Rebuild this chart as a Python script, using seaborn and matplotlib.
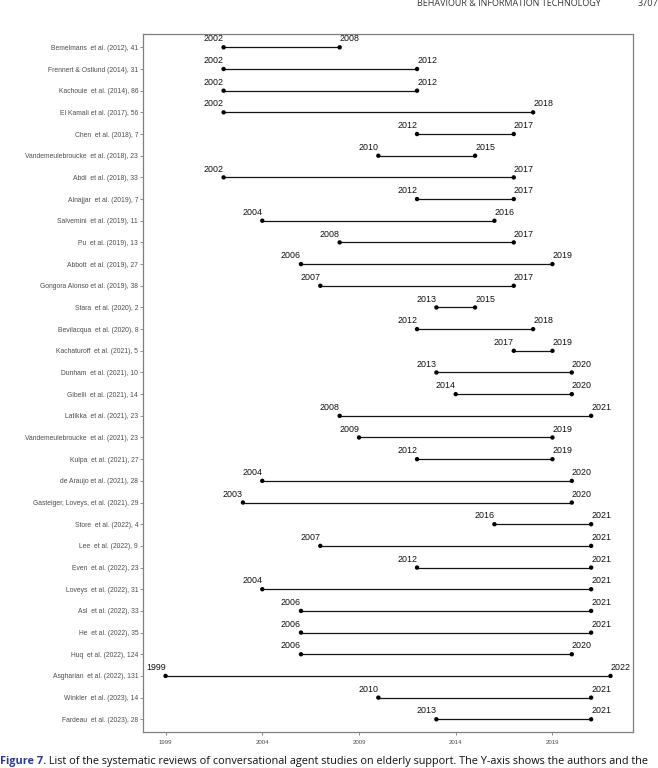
import matplotlib
matplotlib.use("Agg")
import matplotlib.pyplot as plt
import seaborn as sns
import pandas as pd

# studies, top to bottom: author label, first year covered, last year covered
studies = [
    "Bemelmans  et al. (2012), 41",
    "Frennert & Ostlund (2014), 31",
    "Kachouie  et al. (2014), 86",
    "El Kamali et al. (2017), 56",
    "Chen  et al. (2018), 7",
    "Vandemeulebroucke  et al. (2018), 23",
    "Abdi  et al. (2018), 33",
    "Alnajjar  et al. (2019), 7",
    "Salvemini  et al. (2019), 11",
    "Pu  et al. (2019), 13",
    "Abbott  et al. (2019), 27",
    "Gongora Alonso et al. (2019), 38",
    "Stara  et al. (2020), 2",
    "Bevilacqua  et al. (2020), 8",
    "Kachaturoff  et al. (2021), 5",
    "Dunham  et al. (2021), 10",
    "Gibelli  et al. (2021), 14",
    "Latikka  et al. (2021), 23",
    "Vandemeulebroucke  et al. (2021), 23",
    "Kulpa  et al. (2021), 27",
    "de Araujo et al. (2021), 28",
    "Gasteiger, Loveys, et al. (2021), 29",
    "Store  et al. (2022), 4",
    "Lee  et al. (2022), 9",
    "Even  et al. (2022), 23",
    "Loveys  et al. (2022), 31",
    "Asl  et al. (2022), 33",
    "He  et al. (2022), 35",
    "Huq  et al. (2022), 124",
    "Asgharian  et al. (2022), 131",
    "Winkler  et al. (2023), 14",
    "Fardeau  et al. (2023), 28",
]
start_year = [2002, 2002, 2002, 2002, 2012, 2010, 2002, 2012, 2004, 2008,
              2006, 2007, 2013, 2012, 2017, 2013, 2014, 2008, 2009, 2012,
              2004, 2003, 2016, 2007, 2012, 2004, 2006, 2006, 2006, 1999,
              2010, 2013]
end_year = [2008, 2012, 2012, 2018, 2017, 2015, 2017, 2017, 2016, 2017,
            2019, 2017, 2015, 2018, 2019, 2020, 2020, 2021, 2019, 2019,
            2020, 2020, 2021, 2021, 2021, 2021, 2021, 2021, 2020, 2022,
            2021, 2021]
x_ticks = [1999, 2004, 2009, 2014, 2019]

caption_bold = "Figure 7."
caption_rest = (" List of the systematic reviews of conversational agent studies "
                "on elderly support. The Y-axis shows the authors and the")
header_text = "BEHAVIOUR & INFORMATION TECHNOLOGY"
page_no = "3707"

df = pd.DataFrame({"study": studies, "start": start_year, "end": end_year})
long_df = df.melt(id_vars="study", value_vars=["start", "end"],
                  var_name="kind", value_name="year")

sns.set_theme(style="white")
plt.rcParams["font.family"] = ["Liberation Sans", "DejaVu Sans"]

fig = plt.figure(figsize=(6.58, 7.68), dpi=100)
ax = fig.add_axes([0.2178, 0.0465, 0.9616 - 0.2178, 0.9553 - 0.0465])

line_col = "#141414"
ax.hlines(df["study"], df["start"], df["end"], color=line_col, lw=0.9, zorder=2)
sns.scatterplot(data=long_df, x="year", y="study", color="black", s=10,
                edgecolor="none", legend=False, ax=ax, zorder=3)

# year labels: start year to the left of its point, end year to the right
for _, r in df.iterrows():
    ax.annotate(str(r["start"]), (r["start"], r["study"]), xytext=(0, 2.8),
                textcoords="offset points", ha="right", va="bottom",
                fontsize=6.4, color="#111111")
    ax.annotate(str(r["end"]), (r["end"], r["study"]), xytext=(0, 2.8),
                textcoords="offset points", ha="left", va="bottom",
                fontsize=6.4, color="#111111")

ax.set_ylim(len(studies) - 0.4, -0.6)
ax.set_xlim(1997.85, 2023.15)
ax.set_xticks(x_ticks)
ax.set_xticklabels([str(t) for t in x_ticks])
ax.set_xlabel("")
ax.set_ylabel("")

frame_col = "#7f7f7f"
for sp in ax.spines.values():
    sp.set_visible(True)
    sp.set_color(frame_col)
    sp.set_linewidth(0.9)
ax.grid(False)
ax.tick_params(axis="both", which="major", direction="out", length=2.2,
               width=0.6, color=frame_col, pad=1.5, bottom=True, left=True)
ax.tick_params(axis="y", labelsize=4.9, labelcolor="#4d4d4d")
ax.tick_params(axis="x", labelsize=4.4, labelcolor="#4d4d4d", pad=3)

# page header (cut at top of the scan) and the caption line
fig.text(0.913, 1 - 6.0 / 768, header_text, ha="right", va="baseline",
         fontsize=6.5, color="#333333", family=["Open Sans", "DejaVu Sans"])
fig.text(1.0, 1 - 6.0 / 768, page_no, ha="right", va="baseline",
         fontsize=6.5, color="#333333", family=["Open Sans", "DejaVu Sans"])

t1 = fig.text(0.0, 1 - 764 / 768, caption_bold, ha="left", va="baseline",
              fontsize=7.87, fontweight="bold", color="#2a3b8f",
              family=["Open Sans", "DejaVu Sans"])
fig.canvas.draw()
bb = t1.get_window_extent()
fig.text(bb.x1 / fig.bbox.width, 1 - 764 / 768, caption_rest, ha="left",
         va="baseline", fontsize=7.87, color="#111111",
         family=["Open Sans", "DejaVu Sans"])

fig.savefig("out.png", dpi=100)
